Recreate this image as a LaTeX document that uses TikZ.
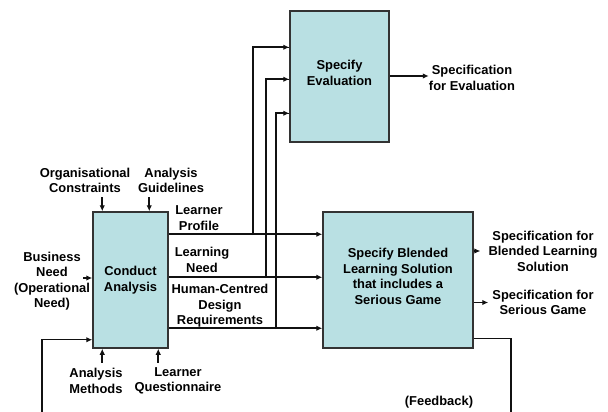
\documentclass[tikz,border=0pt]{standalone}
\usepackage{fontspec}
\setmainfont{Liberation Sans}
\usetikzlibrary{arrows.meta, positioning, calc}
\definecolor{boxFill}{HTML}{B9E0E3}
\definecolor{boxEdge}{HTML}{333333}
\definecolor{lineDark}{HTML}{111111}

\begin{document}
\begin{tikzpicture}[x=1pt, y=-1pt,
    act/.style={rectangle, fill=boxFill, draw=boxEdge, line width=1.5pt,
      align=center, inner sep=0pt, font=\fontsize{12.9pt}{15.5pt}\selectfont\bfseries},
    lbl/.style={align=center, inner sep=0pt, font=\fontsize{12.9pt}{15.5pt}\selectfont\bfseries},
    ar/.style={-{Latex[length=6pt, width=5.5pt]}, line width=1.9pt, lineDark},
    br/.style={line width=1.4pt, lineDark}]
    \useasboundingbox (0,0) rectangle (608,412);
    % activity boxes
    \node[act, minimum width=75pt, minimum height=136pt] (ca) at (130.5,280) {Conduct\\Analysis};
    \node[act, minimum width=99pt, minimum height=131pt] (se) at (339.5,76.5) {Specify\\Evaluation\\[-8pt]};
    \node[act, minimum width=150pt, minimum height=136pt] (sb) at (398,280) {Specify Blended\\Learning Solution\\that includes a\\Serious Game\\[-8pt]};
    % inputs and controls of the analysis
    \node[lbl] (bn) at (52,281) {Business\\Need\\(Operational\\Need)};
    \node[lbl] (oc) at (85,180.5) {Organisational\\Constraints};
    \node[lbl] (ag) at (171,180.5) {Analysis\\Guidelines};
    \node[lbl] (am) at (96,381) {Analysis\\Methods};
    \node[lbl] (lq) at (178,381) {Learner\\Questionnaire};
    \draw[ar] ([xshift=-9pt,yshift=2pt]ca.west) -- ([yshift=2pt]ca.west);
    \draw[ar] ([xshift=10pt,yshift=14pt]ca.north west) -- ([xshift=10pt]ca.north west);
    \draw[ar] ([xshift=57pt,yshift=14pt]ca.north west) -- ([xshift=57pt]ca.north west);
    \draw[ar] ([xshift=10pt,yshift=-14pt]ca.south west) -- ([xshift=10pt]ca.south west);
    \draw[ar] ([xshift=66pt,yshift=-14pt]ca.south west) -- ([xshift=66pt]ca.south west);
    % analysis outputs
    \coordinate (lp) at ($(ca.north east)+(0,23)$);
    \coordinate (ln) at ($(ca.north east)+(0,66)$);
    \coordinate (hc) at ($(ca.north east)+(0,117)$);
    \node[lbl] (tlp) at (199,218) {Learner\\Profile};
    \node[lbl] (tln) at (202,260) {Learning\\Need};
    \node[lbl] (thc) at (220,306) {Human-Centred\\Design\\Requirements};
    \draw[ar] (lp) -- (lp -| sb.west);
    \draw[ar] (ln) -- (ln -| sb.west);
    \draw[ar] (hc) -- (hc -| sb.west);
    % branches up to the evaluation
    \draw[br] (253,235) |- ($(se.north west)+(0,37)$);
    \draw[br] (266,278) |- ($(se.north west)+(0,69)$);
    \draw[br] (276,329) |- ($(se.north west)+(0,103)$);
    \draw[ar] ($(se.north west)+(-37,37)$) -- ($(se.north west)+(0,37)$);
    \draw[ar] ($(se.north west)+(-24,69)$) -- ($(se.north west)+(0,69)$);
    \draw[ar] ($(se.north west)+(-14,103)$) -- ($(se.north west)+(0,103)$);
    % specifications
    \node[lbl] (oe) at (472,78) {Specification\\for Evaluation};
    \node[lbl] (ob) at (543,251) {Specification for\\Blended Learning\\Solution};
    \node[lbl] (og) at (543,302.5) {Specification for\\Serious Game};
    \draw[ar] ([yshift=0.5pt]se.east) -- ([yshift=0.5pt]se.east -| oe.west);
    \draw[ar, shorten >=8pt] (sb.east |- ob.west) -- (ob.west);
    \draw[ar, shorten >=4pt] (sb.east |- og.west) -- (og.west);
    % feedback loop
    \coordinate (fr) at (511,412);
    \coordinate (fl) at (42,412);
    \node[lbl] (fb) at (439,402) {(Feedback)};
    \draw[br] ($(sb.south east)+(0,-10)$) -| (fr);
    \draw[ar, line width=1.4pt] (fl) |- ($(ca.south west)+(0,-9)$);
\end{tikzpicture}
\end{document}
